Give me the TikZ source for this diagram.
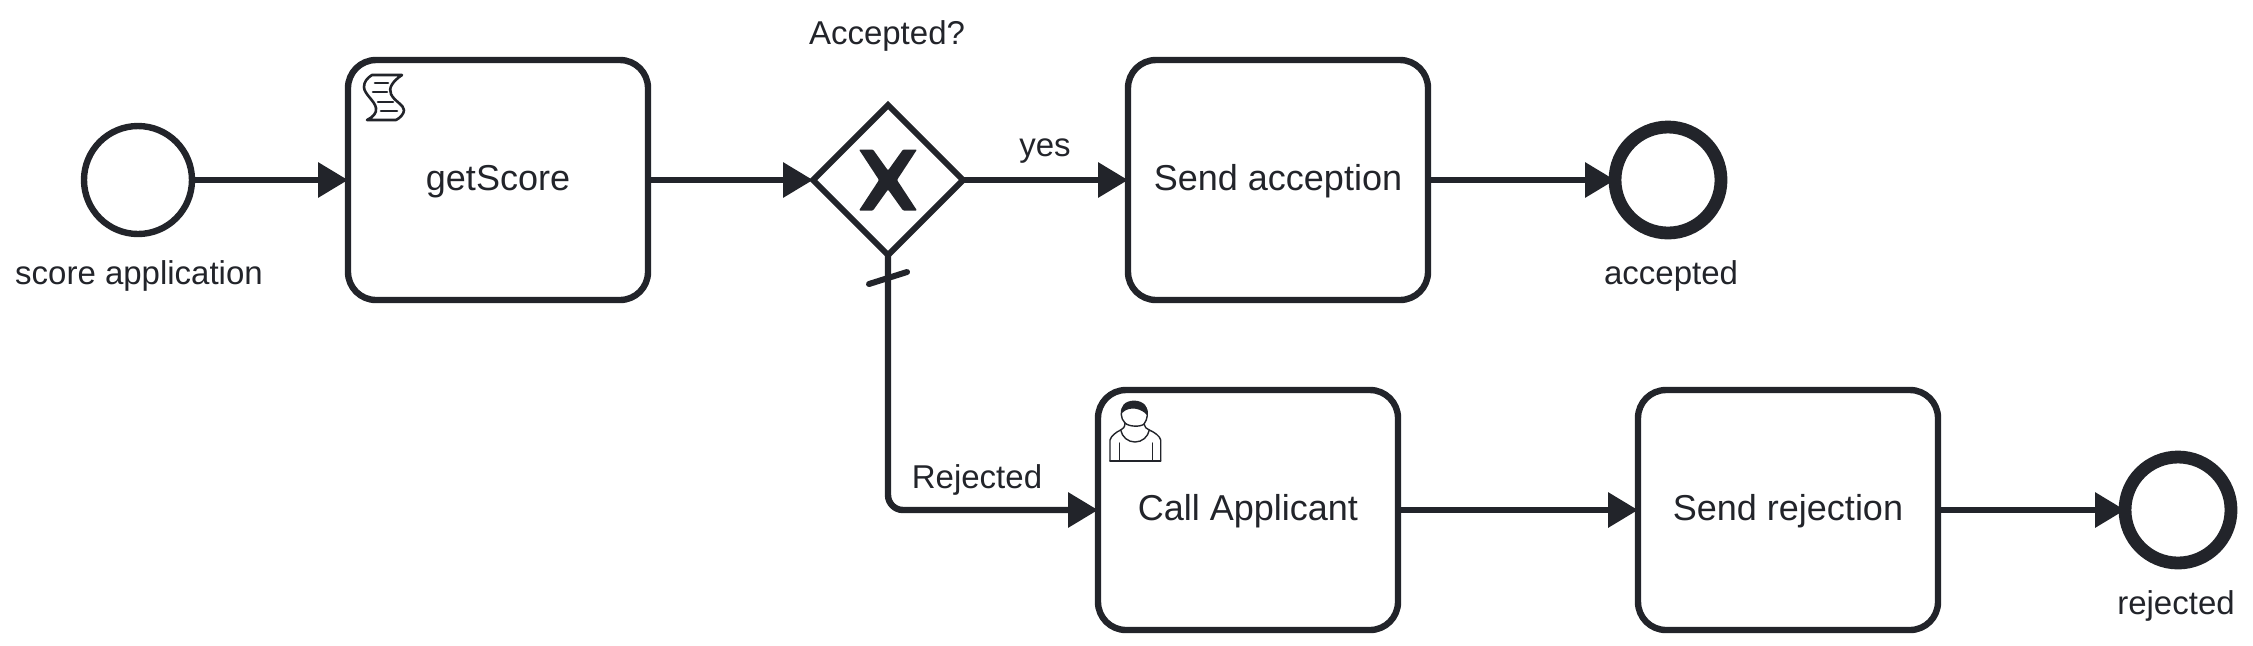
\documentclass[tikz,border=0pt]{standalone}
\usepackage{fontspec}
\setmainfont{Liberation Sans}
\usetikzlibrary{arrows.meta,shapes.geometric,calc}
\definecolor{ink}{HTML}{22242A}
\tikzset{
  taskbox/.style={draw=ink,line width=3.2pt,fill=white,rectangle,rounded corners=14pt,minimum width=150pt,minimum height=120pt,inner sep=0pt,outer sep=0pt,text=ink,font=\fontsize{18}{22}\selectfont,text height=14pt,text depth=3.5pt},
  startev/.style={draw=ink,line width=3.2pt,fill=white,circle,minimum size=54pt,inner sep=0pt,outer sep=0pt},
  endev/.style={draw=ink,line width=6.4pt,fill=white,circle,minimum size=53pt,inner sep=0pt,outer sep=0pt},
  gate/.style={draw=ink,line width=3pt,fill=white,diamond,aspect=1,minimum width=75pt,minimum height=75pt,inner sep=0pt,outer sep=0pt},
  lab/.style={text=ink,anchor=base,inner sep=0pt,font=\fontsize{16.5}{20}\selectfont},
  flow/.style={draw=ink,line width=3.2pt,-{Triangle[length=15pt,width=17pt]},rounded corners=7.5pt},
  icon/.style={draw=ink,line width=1.3pt,line join=round,line cap=round},
  iconthin/.style={draw=ink,line width=.7pt,line join=round,line cap=round}
}
\begin{document}
\begin{tikzpicture}[x=0.5pt,y=-0.5pt]
\useasboundingbox (0,0) rectangle (2253,645);
% nodes
\node[startev] (start) at (138,180) {};
\node[taskbox] (score) at (498,180) {getScore};
\node[gate] (gw) at (888,180) {};
\node[taskbox] (accept) at (1278,180) {Send acception};
\node[endev] (endA) at (1668,180) {};
\node[taskbox] (call) at (1248,510) {Call Applicant};
\node[taskbox] (reject) at (1788,510) {Send rejection};
\node[endev] (endR) at (2178,510) {};
% labels
\node[lab] (lstart) at (139,284) {score application};
\node[lab] (lgw) at (887,44) {Accepted?};
\node[lab] (lyes) at (1045,156) {yes};
\node[lab] (lendA) at (1671,284) {accepted};
\node[lab] (lrej) at (977,488) {Rejected};
\node[lab] (lendR) at (2176,614) {rejected};
% connectors
\draw[flow] (start) -- (score);
\draw[flow] (score) -- (gw.west);
\draw[flow] (gw.east) -- (accept);
\draw[flow] (accept) -- (endA);
\draw[flow] (gw.south) |- (call.west);
\draw[flow] (call) -- (reject);
\draw[flow] (reject) -- (endR);
% default marker
\draw[draw=ink,line width=3pt,line cap=round] (869,284) -- (907,272);
% gateway X
\fill[ink,rounded corners=.5pt] (859,149.5) -- (873,149.5) -- (888,170.5) -- (903,149.5) -- (917,149.5) -- (897,180) -- (917,210.5) -- (903,210.5) -- (888,189.5) -- (873,210.5) -- (859,210.5) -- (879,180) -- cycle;
% script icon
\draw[icon] (372,75) -- (402,75) .. controls (393,81) and (388,88) .. (391,94) .. controls (394,101) and (404,105) .. (404,110) .. controls (404,114) and (400,118) .. (396,120) -- (367,120) .. controls (373,117) and (377,113) .. (376,108) .. controls (375,101) and (364,94) .. (364,87) .. controls (364,82) and (367,78) .. (372,75) -- cycle;
\draw[icon] (375,83) -- (388,83);
\draw[icon] (373,92) -- (387,92);
\draw[icon] (378,102) -- (393,102);
\draw[icon] (381,111) -- (397,111);
% user icon
\draw[iconthin] (1125,423) .. controls (1120,418) and (1121,411) .. (1122.5,408) .. controls (1126,401) and (1143,401) .. (1146,408) .. controls (1148,412) and (1148,419) .. (1144,424) .. controls (1141,427) and (1129,427) .. (1125,423);
\fill[ink] (1122,413) .. controls (1120,407) and (1124,401) .. (1134,400.5) .. controls (1144,401) and (1149,407) .. (1147,415) .. controls (1142,409) and (1130,405) .. (1122,413) -- cycle;
\draw[iconthin] (1110,461) -- (1110,440) .. controls (1111,436) and (1116,432) .. (1120.7,430) .. controls (1123,429) and (1125,427) .. (1125,423);
\draw[iconthin] (1160.7,461) -- (1160.7,440) .. controls (1160,436) and (1154,432) .. (1149.3,430) .. controls (1147,429) and (1144,427) .. (1144,424);
\draw[iconthin] (1110,461) -- (1160.7,461);
\draw[iconthin] (1120.7,430) .. controls (1122,437) and (1128,442) .. (1135,442) .. controls (1142,442) and (1148,437) .. (1149.3,430);
\draw[iconthin] (1119.3,443) -- (1119.3,461);
\draw[iconthin] (1152.3,443) -- (1152.3,461);
\end{tikzpicture}
\end{document}
